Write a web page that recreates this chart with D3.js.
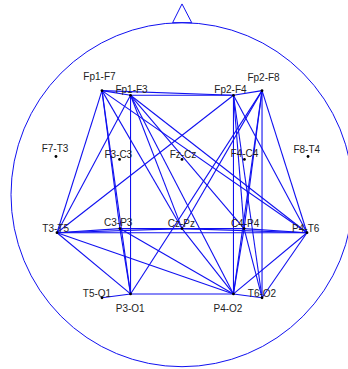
<!DOCTYPE html>
<html>
<head>
<meta charset="utf-8">
<script src="https://cdn.jsdelivr.net/npm/d3@7/dist/d3.min.js"></script>
<style>
  html, body { margin: 0; padding: 0; background: #fff; }
  svg { display: block; }
  text { font-family: "Liberation Sans", Arial, sans-serif; font-size: 10px; fill: #222; }
</style>
</head>
<body>
<svg id="chart" width="348" height="369"></svg>
<script>
// Bipolar channel pairs and their scalp positions (head radius = 1, nose up)
const channels = ["Fp1-F7","Fp1-F3","Fp2-F4","Fp2-F8","F7-T3","F3-C3","Fz-Cz","F4-C4","F8-T4",
                  "T3-T5","C3-P3","Cz-Pz","C4-P4","P4-T6","T5-O1","P3-O1","P4-O2","T6-O2"];
const posX = [-0.468,-0.301, 0.301, 0.468,-0.737,-0.365, 0.000, 0.365, 0.737,
              -0.731,-0.363, 0.000, 0.363, 0.731,-0.468,-0.301, 0.301, 0.468];
const posY = [ 0.605, 0.578, 0.578, 0.605, 0.222, 0.205, 0.205, 0.205, 0.222,
              -0.221,-0.197,-0.197,-0.197,-0.221,-0.599,-0.577,-0.577,-0.599];

// Connections between channel pairs
const links = [
  ["Fp1-F7","Fp1-F3"],["Fp1-F7","Fp2-F4"],["Fp1-F3","Fp2-F4"],["Fp2-F4","Fp2-F8"],
  ["Fp1-F7","T3-T5"],["Fp1-F7","C3-P3"],["Fp1-F7","P3-O1"],["Fp1-F7","Cz-Pz"],["Fp1-F7","P4-T6"],
  ["Fp1-F3","T3-T5"],["Fp1-F3","P3-O1"],["Fp1-F3","Cz-Pz"],["Fp1-F3","P4-T6"],["Fp1-F3","P4-O2"],["Fp1-F3","C4-P4"],
  ["Fp2-F4","T3-T5"],["Fp2-F4","P4-O2"],["Fp2-F4","C4-P4"],["Fp2-F4","T6-O2"],["Fp2-F4","P4-T6"],
  ["Fp2-F8","P4-T6"],["Fp2-F8","T6-O2"],["Fp2-F8","C4-P4"],["Fp2-F8","P4-O2"],["Fp2-F8","Cz-Pz"],["Fp2-F8","P3-O1"],
  ["T3-T5","C3-P3"],["T3-T5","Cz-Pz"],["T3-T5","P4-T6"],["T3-T5","P3-O1"],["T3-T5","P4-O2"],
  ["C3-P3","Cz-Pz"],["C3-P3","P3-O1"],["C3-P3","P4-O2"],
  ["Cz-Pz","C4-P4"],["Cz-Pz","P4-T6"],["Cz-Pz","P4-O2"],
  ["C4-P4","P4-T6"],["C4-P4","P4-O2"],["C4-P4","T6-O2"],
  ["P4-T6","P4-O2"],["P4-T6","T6-O2"],
  ["T5-O1","P3-O1"],["P3-O1","P4-O2"],["P4-O2","T6-O2"]
];

// Nose outline (head units)
const noseX = [-0.055, 0.0, 0.057, -0.055];
const noseY = [1.0, 1.109, 1.0, 1.0];

// Label placement relative to each channel dot (px): [dx, baseline dy]
const labelShift = {
  "Fp1-F7":[-2.5,-10.5], "Fp1-F3":[1,-2], "Fp2-F4":[-3,-2], "Fp2-F8":[1.5,-10],
  "F7-T3":[-1,-4.5], "F3-C3":[-1.3,-1.5], "Fz-Cz":[1,-1], "F4-C4":[0,-2], "F8-T4":[-1.3,-3.5],
  "T3-T5":[-1.3,-0.5], "C3-P3":[-1.7,-2.5], "Cz-Pz":[-0.7,-1.5], "C4-P4":[1,-1.5], "P4-T6":[-1.3,-1],
  "T5-O1":[-5,-0.5], "P3-O1":[-0.3,18.5], "P4-O2":[-5.5,18], "T6-O2":[0,-0.8]
};

const svg = d3.select("#chart");
const cx = 182, cy = 194.7, rx = 171, ry = 172;
const x = d3.scaleLinear().domain([-1, 1]).range([cx - rx, cx + rx]);
const y = d3.scaleLinear().domain([-1, 1]).range([cy + ry, cy - ry]);

const idx = new Map(channels.map((c, i) => [c, i]));
const blue = "#1010f0";

// Head outline
svg.append("ellipse")
  .attr("cx", x(0)).attr("cy", y(0))
  .attr("rx", x(1) - x(0)).attr("ry", y(-1) - y(0))
  .attr("fill", "none").attr("stroke", blue).attr("stroke-width", 1);

// Nose
svg.append("path")
  .datum(noseX.map((v, i) => [x(v), y(noseY[i])]))
  .attr("d", d3.line())
  .attr("fill", "none").attr("stroke", blue).attr("stroke-width", 1);

// Connection lines
svg.append("g").selectAll("line")
  .data(links)
  .join("line")
  .attr("x1", d => x(posX[idx.get(d[0])]))
  .attr("y1", d => y(posY[idx.get(d[0])]))
  .attr("x2", d => x(posX[idx.get(d[1])]))
  .attr("y2", d => y(posY[idx.get(d[1])]))
  .attr("stroke", blue).attr("stroke-width", 1.1);

// Channel dots
svg.append("g").selectAll("circle")
  .data(channels)
  .join("circle")
  .attr("cx", (d, i) => x(posX[i]))
  .attr("cy", (d, i) => y(posY[i]))
  .attr("r", 1.4)
  .attr("fill", "#000");

// Channel labels
svg.append("g").selectAll("text")
  .data(channels)
  .join("text")
  .attr("x", (d, i) => x(posX[i]) + labelShift[d][0])
  .attr("y", (d, i) => y(posY[i]) + labelShift[d][1])
  .attr("text-anchor", "middle")
  .text(d => d);
</script>
</body>
</html>
